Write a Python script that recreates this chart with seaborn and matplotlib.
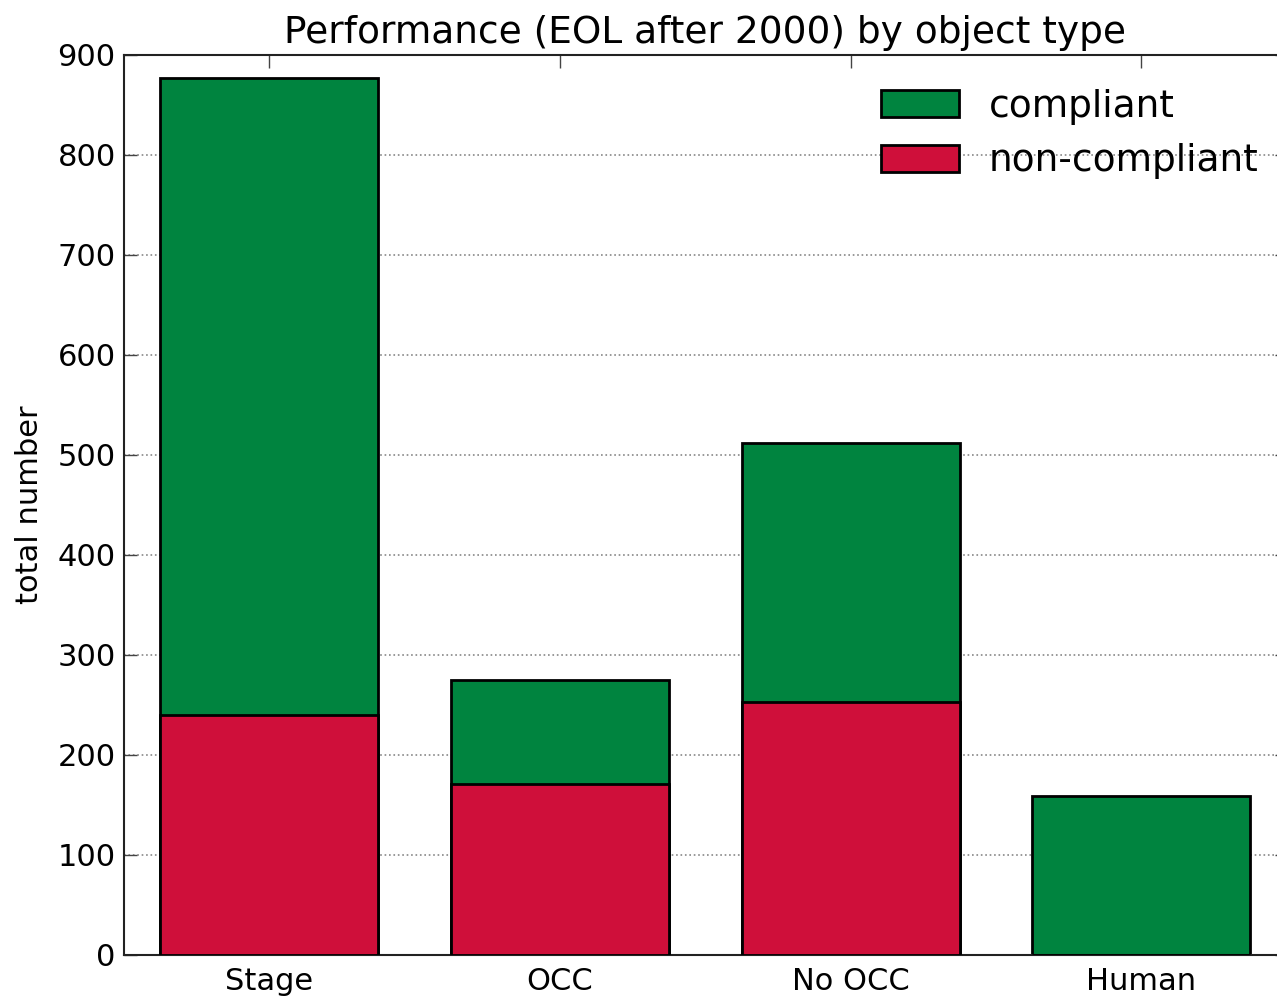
import matplotlib
matplotlib.use("Agg")
import matplotlib.pyplot as plt
from matplotlib.patches import Patch
import seaborn as sns
import pandas as pd

categories = ["Stage", "OCC", "No OCC", "Human"]
compliant = [637, 104, 259, 159]
non_compliant = [240, 171, 253, 0]
totals = [c + n for c, n in zip(compliant, non_compliant)]

green = "#00843f"
red = "#cf0f3a"

sns.set_theme(style="ticks")
plt.rcParams["font.family"] = ["DejaVu Sans"]
plt.rcParams["text.color"] = "black"
plt.rcParams["axes.labelcolor"] = "black"
plt.rcParams["xtick.labelcolor"] = "black"
plt.rcParams["ytick.labelcolor"] = "black"

df = pd.DataFrame({"type": categories, "total": totals, "non": non_compliant})

fig = plt.figure(figsize=(12.77, 9.96), dpi=100)
ax = fig.add_axes([0.0971, 0.0412, 0.9105, 0.9036])

# stacked bars: full totals in green, non-compliant part drawn over them in red
sns.barplot(data=df, x="type", y="total", color=green, saturation=1, width=0.75,
            edgecolor="black", linewidth=2, ax=ax, zorder=2)
sns.barplot(data=df, x="type", y="non", color=red, saturation=1, width=0.75,
            edgecolor="black", linewidth=2, ax=ax, zorder=3)

ax.set_xlim(-0.5, 3.5)
ax.set_ylim(0, 900)
ax.set_yticks(range(0, 901, 100))
ax.set_xlabel("")
ax.set_ylabel("total number", fontsize=22, labelpad=9.5)
ax.set_title("Performance (EOL after 2000) by object type", fontsize=27, pad=8.5,
             color="black")

ax.yaxis.grid(True, linestyle=":", color="#888888", linewidth=1.2)
ax.set_axisbelow(True)
ax.tick_params(axis="both", direction="in", length=9, width=1, top=True, right=True,
               labelsize=22, color="#444444")
ax.tick_params(axis="x", pad=9)
ax.tick_params(axis="y", pad=6)
for s in ax.spines.values():
    s.set_linewidth(1.5)
    s.set_color("#222222")

handles = [Patch(facecolor=green, edgecolor="black", linewidth=2, label="compliant"),
           Patch(facecolor=red, edgecolor="black", linewidth=2, label="non-compliant")]
ax.legend(handles=handles, loc="upper right", frameon=False, fontsize=27,
          bbox_to_anchor=(1.005, 1.0), handlelength=2.08, handleheight=0.75,
          labelspacing=0.5, handletextpad=0.8)

fig.savefig("out.png", dpi=100)
